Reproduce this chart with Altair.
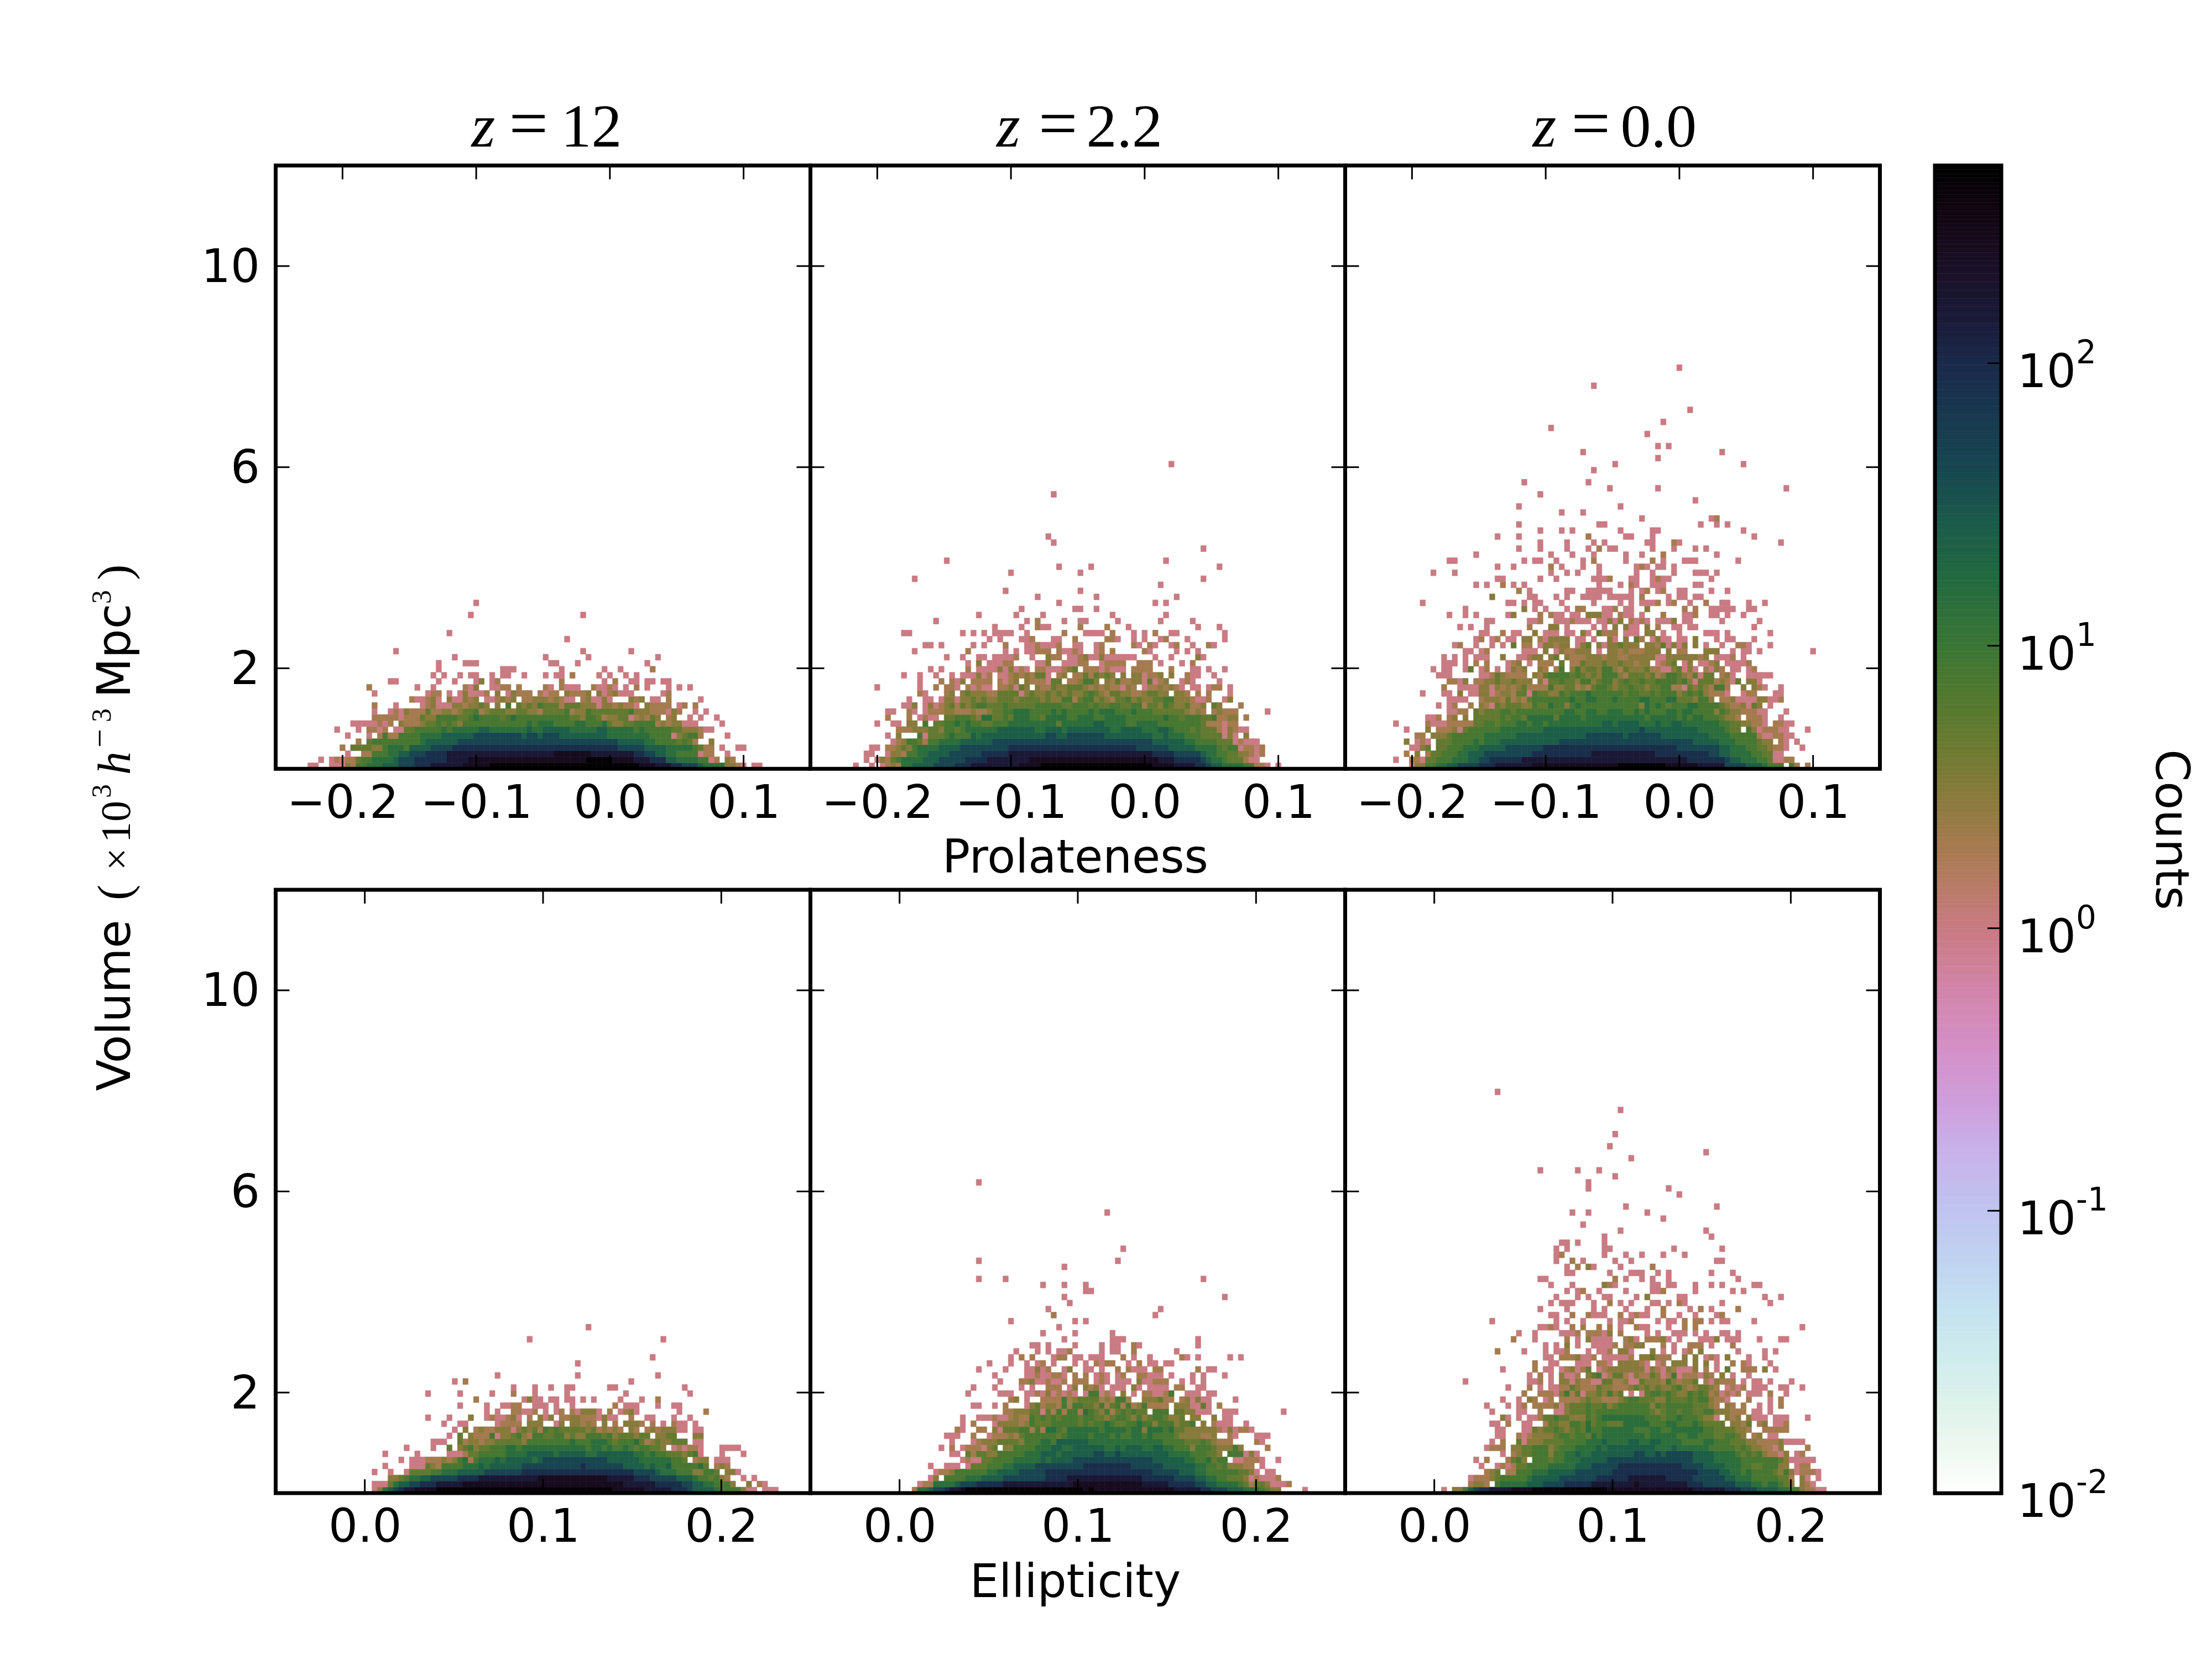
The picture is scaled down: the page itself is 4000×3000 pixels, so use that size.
import altair as alt
import numpy as np
import pandas as pd

# panel rows run bottom-up, each token is "first_column:levels"
TOP_Z12 = [
    "6:11 10:1113255666 20:777888999a 30:aaaaabbbbb 40:cccccccccc 50:cccccccccc 60:ccccccccbb 70:baaa998887 80:666633 86:21 89:11",
    "8:1 10:12 12:12245 17:56666 22:7888 26:999999aaaa 36:bbbbbbbbbb 46:bbbbbbbbbb 56:bbcccccbbb 66:baaa999 73:77666 78:655 81:12 84:32",
    "13:1 16:22 18:5556 22:67788 27:8999 31:9aaaaaaaaa 41:aaaaaaaaaa 51:abbbbbbbaa 61:aaaaaa 67:99 69:887 72:766 75:5555 79:122 84:1",
    "12:2 14:4444 18:33566 23:657777 29:88889999 37:9999999999 47:9999999999 57:9999999 64:88888 69:777 72:76666 77:654 80:22 83:1 86:11",
    "15:2 17:4555 21:555555 27:677777 33:7888888 40:8888888888 50:8888888888 60:8888 64:77777 69:66 71:555 74:545 77:42 81:3",
    "13:1 17:1 19:2522 23:55556 28:66677777 36:7888888888 46:7887888777 56:7777776 63:6666666 70:5555 74:1 75:345 78:52 84:1",
    "11:1 15:1 17:2212 22:11 24:4455 28:5556566 35:6667766 42:6666676677 52:7776666677 62:6666656 69:5555 73:544 76:333 79:2 80:11",
    "14:11111 19:212 23:322 26:2 27:34454 32:54 34:3 35:55555 40:55555 45:55656 50:66555 55:56655 60:56 62:4 63:33 65:4 66:45 68:5 69:55 71:2 72:3 73:2 74:333 76:111 83:1",
    "18:2 19:222 22:2 23:1 24:222 27:43 29:3 30:555 33:54 35:4 36:5 37:655 40:55 42:456 45:555 48:55555 53:55 55:44 57:3 58:55 60:4 61:2 62:33 64:44 66:1 67:232 70:4 71:3 73:2 74:3 77:1 79:1 82:1",
    "18:1 21:1 22:21 24:3222 28:44 29:22 31:33 33:2 34:3 35:44 37:5 38:2 39:34 41:4 42:4 43:33 45:4433 49:2 50:4444 54:5 55:2 56:33 58:5 59:44 61:4444 65:4 66:5 67:333 70:22 72:21 74:3 75:2 78:1 80:1",
    "18:2 22:1 27:12 29:3 30:111 33:333 35:2 36:3343 41:3 43:5 45:4 46:3 47:4 48:3 49:5 50:4 51:44 53:2 54:4 55:44 57:33 59:3 60:1 61:3 62:3 63:2 64:3 65:22 67:1 69:3 70:2 71:2 72:22 75:1 76:2 78:2",
    "25:2 26:11 28:23 30:1 32:3 33:11 35:32 37:3 39:11 41:2 42:32 44:3 46:22 48:333 51:2 52:32 54:11 57:23 59:11 61:3 62:1 66:323 70:11 73:2 79:1",
    "18:1 28:1 29:22 32:1 34:1 35:3 36:1 37:11 39:2 41:3 43:1 44:3 45:222 49:2 50:1 51:22 54:3 55:2 56:22 58:3 60:3 61:1 62:2 63:3 64:111 72:1 73:2",
    "17:2 26:1 29:1 35:2 36:1 37:3 40:11 42:22 45:2 50:2 51:1 53:2 54:111 59:2 60:11 62:2 63:1 65:1 67:2 69:1 73:1 75:1 77:1",
    "21:11 30:1 33:1 37:1 38:3 40:1 41:2 53:2 61:1 63:2 66:11 69:11 72:11",
    "29:1 31:1 34:1 36:11 40:1 42:11 46:1 50:1 52:11 55:2 60:1 62:1 65:1 67:1",
    "30:1 42:111 53:1 61:1 64:1 70:2",
    "30:1 35:111 51:11 56:1 69:1",
    "33:1 50:1 58:1 71:1",
    "22:1 57:1 66:1",
    "",
    "54:1",
    "32:1",
    "",
    "",
    "36:1 57:1",
    "",
    "37:1",
]

TOP_Z22 = [
    "8:1 11:1 13:1 14:232 17:667 20:77788 25:8899 29:9aa 32:aaaaaa 38:abbbb 43:ccccccc 50:ccccccc 57:ccccccc 64:bbb 67:baaaa 72:998 75:77 77:6666 81:55 83:22 85:1 87:1",
    "10:1 12:1 13:3 14:245 17:6666 21:7778 25:8888 29:9999 33:aaaaaaaa 41:bbbbbbbbb 50:bbbbbbbbbbbbbbb 65:aaa 68:99999 73:8766 77:5444 81:2 82:11",
    "10:11 14:1 15:332 18:556 21:67777 26:8888 30:889 33:9999 37:aaaaaaaaaa 47:aaaaaaaaaa 57:aaaaaaa 64:9999 68:8888 72:87 74:66 76:55 78:4433 82:2 83:1 84:2",
    "11:11 14:223 17:43 19:56666 24:7777 28:8888 32:88888 37:9999999999 47:9999999999 57:9999 61:888888 67:7777 71:76666 76:5455 80:1 81:22 83:1 84:2",
    "15:1 16:23 18:554 21:2 22:5566 26:66777 31:7778888 38:8888888888 48:8888888888 58:888888 64:777777 70:66 72:5555 76:444 79:1 80:2 81:111",
    "14:1 16:3 20:5 21:1 22:444 25:5655 29:5 30:7677 34:7777 38:7777778 45:8778888888 55:7777 59:77777 64:66 66:7 67:666 70:555 73:4444 77:1 78:3 79:1 81:3",
    "16:222 19:3 20:33443 25:5545 29:66666 34:6777777 41:7667776777 51:7777766777 61:7666 65:776 68:555 71:45 73:4444 76:2 77:1 78:3 79:2 80:11",
    "12:1 15:11 18:33 21:5 23:44 25:55656 30:5544 34:55 36:5 37:6666666 44:66 46:46 48:666 51:6677 55:6666 59:5566 63:6655 67:5555 71:5 72:5 73:4 74:222 77:1 78:22",
    "14:2 18:2 20:1 21:2 22:11 25:44 27:55543 32:66 34:445 37:46 39:6655 43:4 44:66 46:66 48:5566 52:6556 56:6665 60:5555 64:556 67:5545 71:5 72:5445 76:2233 81:2",
    "14:11 18:2 19:1 21:1 22:2 23:22 25:3 26:32 28:22 30:3 31:2 32:2 33:3 34:4 35:45 37:5 38:6 39:66 41:55 43:5 44:5 45:6 46:56 48:55 50:5 51:5 52:6 53:5 54:6 55:66 57:55 59:5 60:6 61:55 63:5 64:4 65:4 66:4 67:44 69:4 70:3 71:2 72:3 73:2 75:2 76:3 77:22 79:2 85:1",
    "17:11 19:3 21:1 22:3 23:1 24:2 25:3424 29:3455 33:4445 37:44444 42:55555 47:44555 52:45445 57:54455 62:23 63:44 65:3543 69:34 71:22 73:3 75:4 76:3 80:2",
    "18:1 21:11 24:1 25:33 27:1 28:3343 32:43 34:344 37:4 38:3 39:44 41:44 43:34 45:33 47:55 49:2 50:45 52:53 54:4 55:3 56:2 57:445 60:34 62:33 64:4455 68:33 70:32 72:11 74:2 77:1 78:3",
    "20:2 21:1 25:2 26:3 28:3 29:43 31:3 32:3 33:22 35:44 37:44 39:1 40:3 41:4 42:33 44:4 45:3 46:4 47:3 48:4 49:3 50:3 51:4 52:5 53:4 54:3 55:2 56:4 57:4 58:3 59:3 60:2 61:2 62:3 63:44 65:3 66:3 68:3 69:3 70:2 72:2 74:2 78:1",
    "12:1 20:1 23:2 25:22 27:1 29:21 31:2 32:11 35:22 37:3 38:1 39:43 42:32 44:2 45:43 47:34 49:44 51:3 52:2 53:3 54:2 55:3 56:22 58:1 59:3 60:2 62:1 63:2 64:23 66:23 68:2 69:1 71:1 72:1 74:1 75:22 78:1",
    "20:1 24:2 26:2 27:1 28:3 30:222 33:2 35:2 36:1 37:23 40:3 41:2 42:22 44:1 45:4 46:4 48:22 50:3 51:5 52:5 53:3 55:3 56:2 57:4 58:22 60:33 62:1 63:4 64:1 65:23 69:1 70:2 71:1 76:1",
    "17:1 20:1 23:1 26:1 28:111 31:3 32:1 33:2 35:11 37:2 38:323 41:2 42:44 44:1 46:2 47:3 49:22 51:4 52:24 54:34 56:3 58:3 60:33 62:1 63:22 65:3 67:3 70:2 71:11 75:1",
    "22:1 24:1 29:2 31:1111 35:3 36:1 37:3 38:1 39:2 40:1 42:22 44:111 47:2 48:34 51:222 54:1 55:2 56:111 60:2222 67:2 71:11 74:1 77:1",
    "29:1 31:3 33:1 34:11 36:22 42:11 44:3 47:111 50:22 54:1 55:2 56:222 61:222 65:1 69:1 71:2",
    "25:1 28:1 31:11 34:1111 38:2 41:1 44:3 45:22 48:11 50:2 51:3 52:11 54:3 55:1 56:11111 64:1 67:1 72:3 73:1",
    "19:1 29:2 36:1 38:1 40:11 42:222 46:2 47:11 49:21 53:1 54:2 56:2 62:21 68:1 70:1 72:1",
    "21:11 24:1 30:1 32:1 36:2 40:11 42:2 43:111 46:2 49:11 53:1 54:2 60:21 63:21 67:12 71:1 74:21",
    "33:1 35:1 39:11 41:2 45:11 49:2 55:22 57:1 60:1 62:1 65:12 70:1 77:1",
    "17:11 28:1 30:1 32:1 34:1111 40:1 47:2 51:1111 56:2 60:1 62:1 64:2 67:11 77:1",
    "34:1 39:1 42:211 50:2 55:2 59:1 72:1 76:1",
    "23:1 40:1 42:2 47:1 50:11 57:1 65:1 71:1",
    "31:1 38:1 43:1 56:1 66:1",
    "39:1 49:11 53:1",
    "46:1 64:1 66:1",
    "42:1 53:1 68:1",
    "36:1 50:1",
    "65:1",
    "19:1 73:1",
    "37:1 50:1",
    "46:1 52:1 76:1",
    "25:1 66:1",
    "",
    "73:1",
    "45:1",
    "44:1",
    "", "", "", "", "", "",
    "45:1",
    "", "", "", "",
    "67:1",
]

TOP_Z00 = [
    "12:1 13:33 15:556 18:677 21:888 24:899 27:9aa 30:aaaaa 35:bbbbb 40:bbbbb 45:bbbbb 50:bcccc 55:ccccc 60:bbbbb 65:baaaa 70:a8888 75:7776 79:5 80:5 81:5 83:5 84:2 86:2",
    "9:1 12:2 13:21 15:445 18:556 21:667 24:7889 28:999 31:99aaa 36:aaaaa 41:aaaaa 46:aaaaa 51:aaaaa 56:aaaaa 61:aaa99 66:99999 71:8776 75:66 77:55 79:4 80:1 81:1 82:2 83:2",
    "11:2 13:3 15:2 16:445 19:556 22:677 25:7888 29:888 32:88899 37:99999 42:9999a 47:aaaaa 52:aaaaa 57:a9999 62:99999 67:98877 72:6666 76:554 79:4 80:1 81:1",
    "12:11 14:34 17:445 20:556 23:6677 27:7778 31:8888 35:88999 40:99999 45:99999 50:99999 55:99999 60:99888 65:88888 70:77666 75:5544 79:32 81:2 82:1 85:1",
    "11:3 13:1 14:2 15:1 17:44 19:45 21:5556 25:5 26:66 28:6777 32:77 34:7777 38:77888 43:88888 48:88888 53:88888 58:88888 63:88777 68:77666 73:55554 78:33 81:2 82:1 84:1",
    "13:22 16:33 18:345 21:55555 26:66666 31:67777 36:77777 41:77778 46:88888 51:87888 56:88877 61:77777 66:77666 71:65555 76:5 77:2 78:11 80:22 82:1 83:1",
    "11:1 15:3 17:222 20:3 21:1 22:4555 26:55566 31:66666 36:67777 41:77777 46:77777 51:77778 56:77777 61:77777 66:66666 71:54 73:4 75:5 76:3 77:1 78:222 81:1 82:1 86:1",
    "9:1 15:2 16:111 19:222 22:22 24:44 26:55 28:4555 32:66 34:5665 38:6666 42:66666 46:66776 51:77776 56:66766 61:77666 66:66665 71:54433 76:22 78:1 80:22 82:11",
    "15:11 17:2 19:23 22:3 24:44444 29:54554 34:66666 39:46666 44:56666 49:66666 54:66566 59:66656 64:56655 69:54332 75:2 76:22 78:1 81:1",
    "19:11 21:22 24:4344 28:455 31:4555 35:5555 39:5566 43:55665 48:56665 53:56565 58:55665 63:66555 68:53 70:5433 74:22 76:2 77:11 82:1",
    "17:1 19:1 20:2 23:2 25:32 27:1 28:43 30:4443 34:3 35:544 38:655 41:3 42:565 45:55555 50:55 52:55 54:53 56:6565 60:455 63:566 66:5555 70:432 73:23 75:1 76:43 79:1",
    "19:1111 25:2 26:33 28:3 29:2 30:4 31:23 33:2 34:4 35:555 38:55 40:55 42:6 43:5 44:5 45:66 47:5 48:5 49:5 50:6 51:55 53:55 55:66 57:55 59:5 60:6 61:6 62:4 63:44 65:3 66:5 67:5 68:3 70:2 71:2 72:3 73:1111 77:33 79:11 81:2",
    "14:1 18:11 21:3 23:11 25:33 27:1 28:2332 32:441 35:5443 39:3 40:5455 44:5655 48:55554 53:55 55:4 56:4545 60:55 62:34 64:54 66:532 69:22 71:1 74:1 75:22 80:11",
    "18:2 21:111 24:1 25:3 26:3 27:1 28:3 29:2 30:3 31:2 32:3 33:4 34:2 35:22 37:2 38:5 39:3 40:3 41:4 42:4 43:2 44:3 45:2 46:4 47:55 49:4 50:3 51:4 52:4 53:5 54:4 55:4 56:3 57:4 58:4 59:5 60:5 61:2 62:2 63:1 64:4 65:3 66:4 67:3 68:2 69:5 70:5 71:2 74:3 76:3 77:2 78:1 81:1",
    "19:22 21:1 22:3 24:22 26:3 27:3 28:4 29:3 30:3 31:4 32:33 34:3 36:3 37:1 38:4 39:4 40:5 41:4 42:4 43:3 44:55 46:3 47:4 48:55 50:3 51:4 52:5 53:4 54:4 55:5 56:44 58:5 59:55 61:5 62:4 63:5 64:3 65:1 66:44 68:4 69:2 70:3 71:2 72:1 73:4 75:33 77:1",
    "17:111 25:11 27:2 28:4 29:3 30:2222 35:3 36:2 37:4 38:55 40:55 42:4 43:5 44:4 45:3 46:4 47:3 48:5 49:55 51:3 52:2 53:4 54:4 55:4 56:3 57:4 58:2 59:3 60:55 62:4 63:3 64:2 65:4 66:1 67:4 68:4 70:2 71:3 72:1 75:1 76:1 77:1 78:11",
    "16:1 18:11 22:1 23:4 25:1 26:2 28:1 30:1 31:3 32:2 33:3 36:3 37:2 39:2 40:5 42:3 43:5 44:3 45:44 47:3 48:55 50:3 51:2 52:4 53:33 55:3 56:4 57:2 58:2 59:1 60:1 61:3 62:4 63:1 64:3 65:1 67:2 68:1 69:3 70:2 72:1 73:1 75:1 76:2",
    "18:111 22:1 24:2 26:2 30:1 31:23 34:1 36:22 38:2 40:4 42:22 44:4 45:33 47:3 48:4 49:33 51:4 52:33 54:2 55:3 56:3 58:1 59:2 60:3 61:4 63:1 64:3 66:1 67:1 68:2 69:3 71:1 72:11 74:1 75:2",
    "18:1 20:1 22:1 24:111 29:3 32:11 34:2 35:33 38:3 39:4 41:3 42:22 44:2 45:3 46:3 47:3 48:2 49:3 50:3 51:2 52:2 53:3 54:3 55:3 56:3 57:3 58:1 59:1 60:3 61:3 62:3 63:3 64:3 65:3 66:2 67:3 69:1 70:111 72:2 74:1",
    "22:11 25:12 33:111 37:3 39:1 40:3 41:2 42:2 43:33 45:3 47:1 49:33 51:2 52:3 53:222 56:3 57:3 58:3 60:3 62:22 67:333 72:1 74:11 77:1 87:1",
    "20:1 21:2 24:1 27:1 29:1 31:4 33:22 36:1 37:33 39:2 40:3 41:3 43:1 44:3 45:4 47:3 48:1 49:3 50:3 51:4 52:3 53:3 54:3 56:3 57:3 58:2 59:4 60:1 61:3 62:1 63:3 65:3 67:1 70:1 73:22 75:1 79:1",
    "24:12 27:1 28:2 30:11 33:33 36:2 37:1 38:3333 43:11 46:1 49:3 50:1 52:3 54:4 55:2 57:1 58:3 59:11 62:1 63:1 65:3 69:1 71:11 76:1",
    "25:11 29:2 31:11 35:3 37:1 38:11 41:11 44:3 45:1 47:4 48:222 52:1 53:11 56:33 59:1 62:1 67:111 71:1 79:1",
    "21:1 23:1 26:1 34:2 38:33 41:1 46:1 48:1 50:3 52:3 53:11 56:3 58:2 61:1 62:1 64:11 76:1",
    "26:11 34:11 36:2 39:111 42:2 43:111 47:11 49:3 50:1 51:3 53:2 54:1 55:2 56:1 58:111 61:3 63:11 70:1 77:1",
    "19:1 22:1 24:1 30:1 31:3 36:2 38:2 39:11 42:11 45:333 48:11 51:2 52:11 55:1 59:2 63:11 65:2 68:11 71:1 74:1",
    "22:1 33:3 35:1 37:1 41:1 43:22 48:11 50:2 52:11 56:3 63:2 65:2 68:1111 72:1 75:11",
    "14:1 30:11 33:1 35:11 40:1 46:1 51:1 53:1 55:111 58:2 60:1 61:2 64:1 67:2 70:11 75:1 78:1",
    "27:3 34:11 39:1 41:1 44:1111 49:111 52:11 55:2 60:1 62:11 65:11",
    "32:2 34:1 41:11 45:1111 49:1 53:1 55:1 56:2 58:1 59:2 62:11 68:1 71:1",
    "24:1 26:1 29:2 31:1 33:1 47:1 51:1 53:2 54:1 57:1 58:11 65:11",
    "28:11 36:1 39:1 46:111 49:2 53:11 57:1 58:2 59:11 68:1",
    "16:1 20:1 38:1 41:1 43:1 47:1 54:1 57:1 61:1 65:111 69:1",
    "28:1 31:1 38:2 40:1 44:1 47:1 54:1 55:2 56:1 58:11 61:1",
    "19:11 33:1 35:11 39:1 44:1 46:2 52:1 57:2 59:1 63:111 73:1",
    "24:1 38:1 42:1 46:1 52:1 55:1 59:2 69:1",
    "32:1 36:1 41:1 45:1 47:2 49:11 57:1 61:1 65:1 67:1",
    "36:1 41:1 46:1 48:1 56:11 61:2 62:1 81:1",
    "28:1 32:1 45:2 52:11 57:1 76:1",
    "36:1 40:1 42:1 51:1 57:11 74:1",
    "32:1 47:11 66:1 69:1 71:1",
    "55:1 68:1 69:2",
    "40:1 44:1",
    "32:1 51:1",
    "65:1",
    "36:1",
    "49:1 58:1 82:1",
    "33:1 45:1",
    "",
    "46:1",
    "50:1 74:1",
    "58:1",
    "44:1 70:1",
    "58:1 60:1",
    "",
    "56:1",
    "38:1",
    "59:1",
    "",
    "64:1",
    "", "", "",
    "46:1",
    "", "",
    "62:1",
]

BOTTOM_Z12 = [
    "18:1 19:3 20:6 21:7 22:89 24:aab 27:bbb 30:ccccc 35:ccccc 40:ccccc 45:ccccc 50:ccccc 55:ccccc 60:cccbb 65:bbbba 70:aaaa 74:999 77:8 78:7777 82:6 83:5 84:555 87:3 88:11 91:111",
    "18:111 21:4 22:6 23:778 26:899 29:9aaa 33:aabb 37:bbbbb 42:bbbbb 47:bbbbb 52:bbbbb 57:bbbbb 62:bbba 66:aaaa 70:a999 74:9988 78:7766 82:555 85:3 88:3 90:2 91:1",
    "21:33 23:4 24:56 26:6778 30:8888 34:9999 38:aaaaa 43:aaaaa 48:abbbb 53:bbbbb 58:bbbba 63:aaaa 67:999 70:88 72:8887 76:77 78:65 80:54 82:5 83:3 84:2 87:1 89:1",
    "18:1 21:1 24:1 25:4 26:444 29:55 31:66 33:6 34:7 35:77 37:77 39:88 41:88 43:88 45:899 48:9999 52:9999 56:9999 60:9999 64:9998 68:888 71:76 73:66 75:55 77:5 78:33 80:5 81:5 82:4 84:33 86:1",
    "20:1 25:111 28:4 29:3 30:2 31:5 32:55 34:5 35:6 36:66 38:7 39:67 41:77 43:77 45:7 46:8 47:88 49:88 51:88 53:88 55:88 57:9 58:88 60:88 62:88 64:87 66:7 67:77 69:67 71:6 72:67 74:555 77:5 78:5 79:6 80:4 82:2 83:3 84:2",
    "23:1 25:111 28:222 31:3 32:2 33:3 34:5 35:6 36:2 37:56 39:66 41:7 42:67 44:77 46:77 48:6 49:78 51:88 53:8 54:88 56:88 58:8 59:88 61:87 63:77 65:77 67:7 68:66 70:66 72:66 74:5 75:5 76:4 78:2 79:33 82:111",
    "20:1 26:1 32:111 35:2 36:44 38:55 40:55 42:56 44:66 46:6 47:77 49:77 51:7 52:6 53:7 54:77 56:776 59:6 60:77 62:77 64:777 67:665 70:6 71:554 74:4 75:4 76:3 77:4 78:5 79:1 83:1 87:1",
    "24:1 29:1 32:4 34:34 36:5 37:344 40:555 43:66 45:5 46:666 49:666 52:666 55:666 58:5 59:66 61:5 62:6 63:55 65:6 66:5 67:4 68:55 70:44 72:3 74:1 75:2 76:1 77:22 79:1 83:1111",
    "29:11 31:1 34:4 35:233 38:23 40:3 41:4 42:444 45:4 46:3 47:5 48:55 50:5 51:55 53:5 54:5 55:6 56:55 58:5 59:6 60:6 61:6 62:5 63:4 64:5 65:5 66:5 67:6 68:4 69:2 70:3 71:4 72:3 73:3 74:4 75:4 76:4 78:1 79:1",
    "32:1 34:4 36:3 37:222 40:5 41:1 42:334 45:5 46:3 47:2 48:55 50:4 51:4 52:5 53:5 54:3 55:4 56:3 57:3 58:5 59:5 60:5 61:4 62:5 63:3 64:4 65:4 66:4 67:3 68:4 69:4 71:3 72:3 73:4 74:4 78:33",
    "33:1 35:3 37:23 39:22 41:333 44:1 45:34 47:3 48:4 49:2 50:5 51:4 52:5 53:4 54:4 55:4 56:4 57:4 58:3 59:4 60:2 61:3 62:2 63:3 64:2 66:3 67:2 69:2 70:3 71:2 72:3 73:33 75:11 78:11",
    "31:1 34:11 41:1 42:2222 47:333 52:1 53:3 55:33 57:2 58:3 59:2 61:3 63:2 65:3 66:33 68:2 70:2 72:1 74:2 75:11 78:1",
    "28:1 32:1 36:3 39:1 40:2 41:11 43:2 44:3 45:1 47:2 49:3 50:1 51:3 53:22 55:33 57:222 60:1 61:3 62:11 66:2 69:11 74:1 77:1",
    "39:1 41:1 44:22 46:11 48:2 50:1 52:1 53:2 55:2 56:1 57:333 60:1 62:2 64:1 65:2 66:3 67:1 75:1 80:2",
    "34:1 39:1 42:11 44:22 48:111 52:1 55:1 63:2 65:111 71:1 74:11",
    "37:2 46:1 47:3 48:11 51:11 54:11 57:1 59:1 64:1 68:1 71:2",
    "28:1 34:1 40:1 44:2 48:1 54:1 65:1 77:1",
    "44:1 48:1 51:1 54:11 62:11 76:1",
    "33:1 35:2 66:1",
    "41:1 56:1 71:1",
    "",
    "56:1",
    "70:1",
    "", "",
    "47:1 72:1",
    "",
    "58:1",
]

BOTTOM_Z22 = [
    "19:2 20:66 22:788 25:9aa 28:bcc 31:ccccc 36:ccccc 41:ccccc 46:ccccc 51:bcbbb 56:bbbbb 61:bbbbb 66:bbaaa 71:aa99 75:888 78:777 81:6 82:6 83:6 84:5 85:4 86:3 87:3 92:1",
    "20:1 21:22 23:66 25:66 27:7 28:88 30:89 32:99 34:99 36:aa 38:aa 40:aa 42:aa 44:aa 46:aa 48:ab 50:bb 52:bb 54:bb 56:bb 58:bb 60:bb 62:aa 64:aa 66:a9 68:99 70:99 72:88 74:77 76:66 78:66 80:5 81:4 82:2 83:44 85:3 86:111 89:2",
    "22:1 23:3 25:5 26:55 28:56 30:66 32:77 34:77 36:88 38:88 40:88 42:88 44:99 46:99 48:aa 50:aa 52:aa 54:aa 56:aa 58:aa 60:aa 62:99 64:99 66:99 68:88 70:88 72:77 74:66 76:55 78:44 80:4 81:3 82:1 83:2 84:111 87:2",
    "23:1 24:22 26:3555 30:55 32:56 34:67 36:77 38:78 40:88 42:88 44:99 46:99 48:99 50:99 52:99 54:99 56:99 58:99 60:99 62:99 64:88 66:88 68:87 70:77 72:66 74:55 76:55 78:55 80:4 81:4 82:3 83:1 85:1 86:1",
    "22:1 25:111 29:1 30:44 32:45 34:55 36:66 38:77 40:77 42:88 44:88 46:88 48:88 50:89 52:99 54:99 56:99 58:99 60:88 62:88 64:88 66:77 68:77 70:77 72:6 73:6 74:55 76:4 77:5 78:3 79:33 81:2 82:2 84:1",
    "28:1 29:2 30:1 31:1 32:44 34:55 36:5 37:5 38:6 39:66 41:66 43:7 44:67 46:7 47:77 49:88 51:88 53:88 55:8 56:8 57:88 59:88 61:88 63:8 64:7 65:7 66:77 68:77 70:6 71:6 72:5 73:5 74:6 75:4 76:5 77:5 79:11 81:222 84:1 87:1",
    "26:11 29:4 30:2 31:4 32:4 33:3 34:3 35:5 36:5 37:5 38:5 39:5 40:6 41:66 43:77 45:76 47:77 49:77 51:77 53:88 55:77 57:87 59:77 61:77 63:77 65:77 67:66 69:66 71:5 72:5 73:5 74:4 75:4 76:3 78:5 79:55 81:1 82:3 83:1",
    "24:1 26:2 28:1 29:222 32:1 33:3 34:4 36:33 38:5 39:55 41:5 42:66 44:67 46:7 47:66 49:77 51:77 53:77 55:66 57:7 58:67 60:77 62:66 64:77 66:66 68:55 70:5 71:3 72:5 73:5 74:5 75:4 76:3 77:33 79:5 80:3 85:2",
    "26:1 30:1 31:2 32:333 35:44 37:4 38:4 39:3 40:5 41:55 43:66 45:5 46:77 48:77 50:77 52:66 54:66 56:66 58:66 60:66 62:66 64:66 66:55 68:55 70:4 71:4 72:4 73:5 74:4 75:3 76:222 83:2 84:1",
    "25:111 30:2 33:1 34:222 37:3 38:2 39:4 40:5 41:5 42:5 43:5 44:5 45:5 46:4 47:5 48:6 49:6 50:6 51:6 52:5 53:6 54:6 55:6 56:5 57:6 58:5 59:5 60:6 61:6 62:5 63:6 64:5 65:5 66:5 67:5 68:4 69:3 70:3 71:3 72:3 73:22 75:3 78:2 79:1 83:111",
    "27:2 28:1 31:22 34:3 35:1 36:44 38:4 39:5 40:5 41:2 42:5 43:2 44:6 45:6 46:5 47:4 48:6 49:6 50:6 51:6 52:6 53:6 54:5 55:6 56:6 57:6 58:6 59:5 60:6 61:6 62:3 63:6 64:6 65:6 66:5 67:6 68:4 69:4 70:3 71:3 72:3 73:3 74:33 76:2 77:1 78:3 79:1 80:22 82:1",
    "28:1 30:2 34:1 35:33 37:33 39:2 40:3 41:5 42:4 43:4 44:4 45:5 46:5 47:5 48:5 49:5 50:4 51:5 52:4 53:5 54:5 55:6 56:5 57:4 58:4 59:5 60:5 61:6 62:5 63:5 64:3 65:5 66:5 67:5 68:3 69:4 70:4 71:5 73:3 75:2 76:1 77:1 78:1 81:1",
    "28:1 31:111 34:2 35:11 37:2 38:3 39:2 40:2 41:5 42:4 43:5 44:4 45:5 46:4 47:5 48:5 49:5 50:4 51:5 52:5 53:4 54:4 55:3 56:4 57:5 58:5 59:4 60:3 61:5 62:3 63:4 64:5 65:5 66:4 67:3 68:3 69:4 71:3 72:3 75:3 77:11",
    "36:22 38:33 40:34 42:4 43:1 44:4 45:2 46:5 47:2 48:5 49:5 50:2 51:6 52:5 53:4 54:3 55:5 56:2 57:4 58:5 59:4 60:5 61:4 62:4 64:5 65:5 66:5 68:4 69:4 70:3 71:3 72:1 73:11 77:111 88:1",
    "30:11 34:1 36:2 40:1 41:34 43:2 44:3 45:3 46:2 47:5 48:2 49:5 50:5 51:4 52:4 53:3 54:5 55:2 56:4 57:5 58:2 59:5 60:2 61:3 62:5 63:222 66:2 68:33 70:3 71:1 72:1 73:4 74:1 76:2",
    "37:23 40:1 43:222 46:2 47:5 48:2 49:3 50:44 52:4 53:4 54:2 55:3 56:2 57:5 58:5 59:2 62:33 64:34 66:2 67:2 69:2 70:3 71:1 72:3 73:11 79:1",
    "29:1 35:111 40:11 42:2 43:1 44:3 45:1 46:2 47:1 48:2 49:1 51:1 52:55 54:1 55:2 56:1 58:3 60:1 62:22 64:11 66:2 67:5 70:111 74:11",
    "30:1 34:1 39:1 41:1 44:2 45:22 48:1 49:3 51:3 52:2 53:3 54:1 56:111 60:3 61:1 63:1111 68:22 72:11",
    "35:1 39:22 41:3 42:11 44:2 45:11 47:2 49:222 53:1 54:2 55:1 57:1 58:11 61:3 62:11 64:222 69:1 71:1 73:1",
    "34:1 40:11 42:2 43:11 45:22 47:1 49:2 51:2 53:1 54:2 55:1 57:1 58:2 61:22 63:111 67:1 71:1 73:1 77:1",
    "31:1 36:1 40:11 42:3 43:1 44:2 47:1 48:3 51:11 54:1 57:2 59:2 60:111 64:22 72:2 74:11",
    "33:1 37:1 40:1 42:1 43:2 45:1 49:1 51:1 53:2 54:1 55:22 59:1 61:2 63:11 66:11",
    "37:1 39:2 41:2 45:1 46:22 49:11 52:111 58:2 60:1 63:1 69:2 70:1 72:1 78:1 80:1",
    "38:1 42:1 44:1 46:11 48:2 54:1 56:11 60:2 68:1",
    "41:11 44:1 49:1 54:1 56:11 60:2 61:1 72:1",
    "47:1 56:1 57:11 72:1",
    "43:1 49:1 56:1",
    "46:1",
    "37:1 49:1 51:1",
    "45:2 64:1",
    "44:1 65:1",
    "48:1",
    "47:1 77:1",
    "51:11",
    "43:1 47:1 51:1",
    "36:1 31:1 73:1",
    "",
    "47:1",
    "31:1 57:1",
    "",
    "58:1",
    "",
    "", "", "", "",
    "55:1",
    "", "", "", "",
    "31:1",
]

BOTTOM_Z00 = [
    "18:1 20:33 22:57 24:8 25:9 26:9a 28:aa 30:ab 32:bb 34:bc 36:cc 38:cc 40:cc 42:cc 44:cc 46:cc 48:cb 50:bb 52:bb 54:bb 56:bb 58:bb 60:bb 62:bb 64:ba 66:aa 68:aa 70:a9 72:99 74:88 76:87 78:77 80:76 82:6 83:5 84:5 85:3 86:2 87:2 88:11",
    "23:2 24:3 25:3 26:2 28:5 29:66 31:66 33:6 34:77 36:7 37:88 39:88 41:99 43:99 45:9a 47:aa 49:aa 51:aa 53:ab 55:aa 57:aa 59:aa 61:aa 63:a9 65:99 67:88 69:88 71:88 73:7 74:7 75:7 76:6 77:6 78:5 79:66 81:5 82:4 83:3 85:3 86:2 87:1",
    "23:1 24:222 27:3 28:4 29:5 30:55 32:55 34:6 35:7 36:7 37:7 38:7 39:78 41:88 43:88 45:88 47:99 49:99 51:99 53:aa 55:aa 57:aa 59:a9 61:99 63:99 65:88 67:88 69:88 71:77 73:6 74:66 76:5 77:5 78:55 80:5 81:4 82:4 83:2 85:3 86:1 88:1",
    "26:2 27:3 28:4 30:2 31:2 32:5 33:5 34:5 35:6 36:6 37:6 38:7 39:77 41:77 43:8 44:88 46:88 48:88 50:99 52:99 54:99 56:99 58:99 60:99 62:99 64:99 66:88 68:88 70:77 72:66 74:5 75:6 76:5 77:5 78:5 79:5 80:4 81:3 82:5 83:3 84:1 85:2 86:22 88:1",
    "25:1 28:1 29:2 30:1 31:2 32:4 33:4 34:5 35:5 36:5 37:5 38:6 39:66 41:66 43:7 44:77 46:8 47:88 49:88 51:99 53:99 55:99 57:99 59:99 61:99 63:88 65:88 67:77 69:77 71:66 73:6 74:5 75:5 76:4 77:4 78:5 79:5 80:5 81:3 82:3 84:1 85:22",
    "24:1 26:2 30:2 31:4 32:5 33:3 35:5 36:5 37:5 38:4 39:55 41:6 42:6 43:6 44:7 45:77 47:77 49:88 51:88 53:88 55:88 57:88 59:88 61:88 63:88 65:77 67:77 69:66 71:66 73:6 74:5 75:5 76:5 77:5 78:55 80:54 82:3 83:11111",
    "29:1 31:2 32:3 33:44 35:5 36:5 37:5 38:3 39:5 40:5 41:6 42:6 43:7 44:66 46:77 48:77 50:77 52:77 54:88 56:7 57:7 58:8 59:7 60:8 61:88 63:88 65:77 67:77 69:66 71:6 72:6 73:5 74:4 75:5 76:4 77:5 78:3 79:2 80:2 81:1 82:3 84:1 85:2",
    "26:1 27:222 31:33 33:4 34:4 35:5 36:5 37:5 38:3 39:4 40:5 41:5 42:5 43:6 44:6 45:6 46:6 47:7 48:6 49:7 50:77 52:77 54:77 56:7 57:7 58:6 59:6 60:6 61:7 62:66 64:66 66:66 68:55 70:55 72:5 73:4 74:5 75:4 76:3 77:3 78:2 79:2 80:1 81:3 86:2",
    "27:1 29:2 32:4 33:1 34:3 35:33 37:4 38:44 40:4 41:5 42:5 43:5 44:5 45:6 46:6 47:6 48:7 49:6 50:6 51:66 53:77 55:66 57:77 59:6 60:6 61:66 63:55 65:55 67:66 69:5 70:5 71:5 72:4 73:4 74:4 75:3 76:3 77:2 78:222 81:3 82:1 83:11 85:1",
    "28:11 32:2 33:1 34:2 35:3 36:33 38:3 39:4 40:55 42:4 43:55 45:4 46:6 47:5 48:6 49:6 50:6 51:66 53:66 55:6 56:5 57:6 58:6 59:6 60:6 61:6 62:5 63:5 64:6 65:6 66:5 67:5 68:5 69:4 70:4 71:5 72:5 73:4 74:3 76:2 77:3 79:1 80:1",
    "28:11 33:11 35:4 36:3 37:44 39:5 40:4 41:3 42:4 43:5 44:4 45:6 46:5 47:5 48:6 49:6 50:66 52:66 54:55 56:5 57:6 58:6 59:5 60:5 61:6 62:6 63:6 64:6 65:6 66:6 67:5 68:5 69:4 70:4 71:4 72:4 73:3 74:3 75:2 78:22 80:2 81:2 82:2",
    "27:11 30:2 33:11 37:2 38:4 39:4 40:3 41:3 42:5 43:5 44:4 45:6 46:4 47:5 48:5 49:4 50:44 52:6 53:6 54:66 56:6 57:5 58:5 59:5 60:6 61:6 62:5 63:5 64:5 65:6 66:5 67:4 68:4 69:4 70:4 72:3 73:3 74:2 75:4 77:2 78:3 80:111 82:2",
    "29:3 30:1 32:1 34:11 36:2 37:44 39:5 40:4 41:4 42:33 44:3 45:5 46:4 47:5 48:6 49:6 50:66 52:66 54:66 56:5 57:5 58:5 59:4 60:5 61:5 62:6 63:5 64:5 65:5 66:4 67:3 68:3 69:1 71:3 72:2 73:3 75:3 76:1 77:11 80:11 82:1 86:1",
    "27:1 32:11 36:2 39:11 41:3 42:4 43:44 45:5 46:4 47:5 48:5 49:5 50:55 52:55 54:5 55:5 56:5 57:4 58:3 59:4 60:5 61:5 62:4 63:5 64:5 65:4 66:4 67:5 68:5 69:3 70:3 71:3 72:2 73:2 74:2 76:1 77:1 79:1",
    "26:1 30:1 32:1 33:2 35:222 38:2 39:3 40:1 41:3 42:44 44:4 45:5 46:4 47:4 48:5 49:3 50:4 51:5 52:5 53:5 54:5 55:5 56:5 57:3 58:5 59:4 60:5 61:5 62:5 63:5 64:5 65:4 66:4 67:4 68:3 69:2 71:3 72:2 74:2 77:1 79:1 81:2",
    "29:1 32:1 34:3 35:2 37:1 38:2 40:22 42:22 44:3 45:4 46:3 47:3 48:2 49:2 50:2 51:3 52:4 53:5 54:5 55:4 56:4 57:4 58:3 59:3 60:5 61:4 62:4 63:4 64:5 65:4 66:5 67:5 68:3 69:2 70:2 71:1 75:2 79:1 81:2",
    "33:2 36:222 39:1 40:3 41:5 42:2 43:4 44:1 45:3 46:3 47:4 48:3 49:5 50:3 51:4 53:1 55:1 56:4 57:5 58:5 59:4 60:5 61:4 62:3 63:3 64:5 65:4 66:5 67:4 68:2 69:3 70:1 71:2 72:1 73:2 75:1 76:11 79:2 82:1",
    "30:1 34:2 36:1 38:11 40:2 41:2 42:4 43:3 44:22 46:2 47:4 48:3 49:3 50:22 52:2 53:3 54:4 55:3 56:4 57:3 58:4 59:3 60:3 61:4 62:5 63:3 64:2 65:3 66:4 67:4 68:3 69:2 71:1 72:2 73:1 74:2 76:111 81:11 85:1",
    "22:1 34:11 36:2 38:1 40:33 42:1 43:322 46:1 47:1 48:44 50:223 53:1 54:1 55:4 56:33 58:3 59:2 60:5 61:3 62:2 63:3 64:3 65:4 67:2 68:1 69:3 70:2 71:22 74:1 76:11 79:1 83:1",
    "34:1 36:2 38:1 40:3 41:11 43:2 45:3 46:45 48:1 49:2 50:44 52:2 53:1 54:3 55:22 57:4 58:3 59:1 60:2 61:5 62:1 63:22 65:2 66:1 67:3 68:2 70:3 72:1 75:1",
    "29:1 35:2 37:11 40:1 41:2 42:3 43:1 44:2 45:4 47:1 48:2 49:3 50:33 52:33 54:33 56:1 57:3 58:2 59:1 60:3 61:2 62:11 64:1 65:3 67:2 69:1 71:4 74:222 78:3 80:1",
    "35:2 38:11 43:111 47:22 49:1 51:33 53:33 55:2 56:1 58:1 59:2 61:333 65:3 67:3 69:1 72:2 74:2 75:1 79:1",
    "37:11 40:222 43:3 44:11 46:2 48:11111 53:2 55:3 56:3 57:4 58:222 63:3 65:3 67:1 68:2 69:1 71:3 75:1 78:1",
    "28:2 33:1 37:1 39:11 41:2 45:1 47:11 49:2 51:33 53:1 57:3 59:1 61:1 63:1 64:2 66:3 73:1 78:1 80:1",
    "37:1 39:1 41:3 43:1 46:1111 50:2 52:22 54:33 59:2 61:1 64:222 68:1 72:2",
    "31:2 35:1 41:2 43:1 45:3 46:1 47:111 52:2 53:3 54:1 56:222 59:3 60:1 62:1 66:111 69:3 71:111 77:1 81:11",
    "32:1 35:1 40:111 43:2 45:222 48:1 49:3 51:2 56:1 58:1 61:111 65:1 67:1 70:11 73:1",
    "36:11 38:2 39:1 42:2 44:2 47:2 49:2 51:1 54:2 55:11 60:1 63:2 65:2 85:1",
    "27:1 39:1 41:1 44:1 49:1 51:11 53:2 58:1 60:11 63:2 65:22 68:1 70:11 76:1",
    "38:11 42:2 45:2 46:111 51:2 53:1 54:2 55:11 59:2 62:1 65:1 69:1 70:2",
    "36:1 41:1 46:1 48:1 52:1 56:1 59:2 64:1 66:2 68:1 73:2",
    "38:1 40:111 46:1 49:2 51:1 53:1 57:11 60:1 62:2 63:1 70:1 79:1",
    "39:1 43:1 45:1 48:11 54:1 56:3 62:11 78:1 81:1",
    "41:1 43:1 44:2 47:1 52:1 57:11 59:2 65:1 72:1 74:1",
    "38:1 42:1 48:3 49:2 50:1 57:11 60:11 65:1 68:1 70:1 76:11",
    "36:11 50:2 52:1 55:1 57:1 60:1 73:1",
    "41:11 49:1 53:111 58:1 60:1 68:1 72:1",
    "41:1 43:2 45:3 46:1 51:1 57:2",
    "39:1 42:2 44:1 50:1 53:1 69:11",
    "39:1 40:2 48:1 52:1 55:1 59:1 63:1",
    "39:1 41:1 48:11 61:1 70:1",
    "40:11 43:1 48:1",
    "48:1 68:1",
    "51:1 67:1",
    "44:1",
    "59:1",
    "42:1 45:1 56:1",
    "52:1 69:1",
    "",
    "62:1",
    "45:1 60:1",
    "45:1",
    "50:1",
    "36:1 43:1 47:1",
    "",
    "53:1",
    "67:1",
    "49:1",
    "",
    "50:1",
    "", "", "",
    "51:1",
    "", "",
    "28:1",
]

# count for every level character
LEVEL_COUNTS = {"1": 1, "2": 2, "3": 3, "4": 5, "5": 8, "6": 14, "7": 25, "8": 45, "9": 90, "a": 160, "b": 260, "c": 450}

X_RANGE_TOP = [-0.25, 0.15]
X_RANGE_BOTTOM = [-0.05, 0.25]
Y_RANGE = [0, 12]
X_TICKS_TOP = [-0.2, -0.1, 0.0, 0.1]
X_TICKS_BOTTOM = [0.0, 0.1, 0.2]
Y_TICKS = [2, 6, 10]
CBAR_TICKS = [0.01, 0.1, 1, 10, 100]
CBAR_EXPONENTS = ["-2", "-1", "0", "1", "2"]
REDSHIFTS = ["12", "2.2", "0.0"]

CMAP_VALUES = [0.01, 0.014, 0.02, 0.03, 0.0436, 0.0645, 0.1, 0.162, 0.234, 0.37, 0.6, 1, 1.85, 2.9, 4.4, 6.8, 10, 17, 28, 43, 66, 100, 138, 213, 333, 501]
CMAP_COLORS = ["#ffffff", "#eff8f1", "#dff3ea", "#cfeced", "#c5e3f0", "#c0d4f0", "#c0c4f0", "#c8b2ea", "#cda0dd", "#d490c9", "#d285ab", "#c97a82",
               "#a97a52", "#8a7a3c", "#6b7a30", "#50782f", "#3a7534", "#236a40", "#1a5a4a", "#174650", "#18384f", "#1a2a4a", "#1a1c3a", "#1a1028", "#120612", "#000000"]

W = 967
H = 1091
CBAR_X = W + 99.5
CBAR_W = 120
CBAR_H = 2401
FONT = "DejaVu Sans"
TICK_SIZE = 83.3
TICK_LEN = 25
color_scale = alt.Scale(type="log", domain=CMAP_VALUES, range=CMAP_COLORS, interpolate="rgb", clamp=True)
one_row = pd.DataFrame({"a": [0]})


def cells_from_rows(rows, x_range):
    # later tokens win where two runs overlap
    cells = {}
    step = (x_range[1] - x_range[0]) / 100
    dy = (Y_RANGE[1] - Y_RANGE[0]) / 100
    for r, row in enumerate(rows):
        for token in row.split():
            start, levels = token.split(":")
            for i, ch in enumerate(levels):
                cells[(r, int(start) + i)] = LEVEL_COUNTS[ch]
    return pd.DataFrame(
        [
            {"x": x_range[0] + c * step, "x2": x_range[0] + (c + 1) * step, "y": r * dy, "y2": (r + 1) * dy, "n": n}
            for (r, c), n in cells.items()
        ]
    )


def piece(x, y, s, size, font=FONT, style="normal", angle=0):
    return (
        alt.Chart(one_row)
        .mark_text(text=s, fontSize=size, font=font, fontStyle=style, angle=angle, align="left", baseline="alphabetic", color="black")
        .encode(x=alt.value(x), y=alt.value(y))
    )


def z_title(offsets, label):
    return [
        piece(offsets[0], -34, "z", 110, "Liberation Serif", "italic"),
        piece(offsets[1], -34, "=", 125, "Liberation Serif"),
        piece(offsets[2], -34, label, 110, "Liberation Serif"),
    ]


def ylabel_pieces():
    # baseline runs up the left margin, positions relative to the first panel
    bx = 235.7 - 499.5
    top = 299.3
    serif = "Liberation Serif"
    return [
        piece(bx, 1973 - top, "Volume", TICK_SIZE, angle=270),
        piece(bx, 1628 - top, "(", 85, serif, angle=270),
        piece(bx, 1574 - top, "×", 72, serif, angle=270),
        piece(bx, 1524 - top, "10", 76, serif, angle=270),
        piece(bx - 35, 1443 - top, "3", 50, serif, angle=270),
        piece(bx, 1401 - top, "h", 84, serif, "italic", angle=270),
        piece(bx - 35, 1352 - top, "−", 60, serif, angle=270),
        piece(bx - 35, 1306 - top, "3", 50, serif, angle=270),
        piece(bx, 1262 - top, "Mpc", TICK_SIZE, angle=270),
        piece(bx - 35, 1092 - top, "3", 50, serif, angle=270),
        piece(bx, 1049 - top, ")", 85, serif, angle=270),
    ]


def panel(rows, x_range, x_ticks, show_y=False, x_title=None, extra=()):
    x_scale = alt.Scale(domain=x_range, nice=False, zero=False)
    y_scale = alt.Scale(domain=Y_RANGE, nice=False)
    x_axis = alt.Axis(values=x_ticks, format=".1f", ticks=False, domain=False, grid=False, labelFontSize=TICK_SIZE, labelFont=FONT, labelColor="black",
                      labelPadding=22, labelFlush=False, labelOverlap=False, labelBound=False, labelLimit=500, title=x_title or "", titleFontSize=TICK_SIZE,
                      titleFont=FONT, titleFontWeight="normal", titleColor="black", titlePadding=17, titleX=W / 2 - 5)
    y_axis = None
    if show_y:
        y_axis = alt.Axis(values=Y_TICKS, format="d", ticks=False, domain=False, grid=False, labelFontSize=TICK_SIZE, labelFont=FONT, labelColor="black",
                          labelPadding=29, labelFlush=False, labelOverlap=False, labelBound=False, labelOffset=3, title=None)
    cells = (
        alt.Chart(cells_from_rows(rows, x_range))
        .mark_rect(strokeWidth=0.6)
        .encode(
            x=alt.X("x:Q", scale=x_scale, axis=x_axis),
            x2="x2:Q",
            y=alt.Y("y:Q", scale=y_scale, axis=y_axis),
            y2="y2:Q",
            color=alt.Color("n:Q", scale=color_scale, legend=None),
            stroke=alt.Stroke("n:Q", scale=color_scale, legend=None),
        )
    )
    xdf = pd.DataFrame({"v": x_ticks})
    ydf = pd.DataFrame({"v": Y_TICKS})
    layers = [cells]
    for y0, y1 in [(0, TICK_LEN), (H - TICK_LEN, H)]:
        layers.append(alt.Chart(xdf).mark_rule(strokeWidth=3, color="black").encode(x=alt.X("v:Q", scale=x_scale, axis=x_axis), y=alt.value(y0), y2=alt.value(y1)))
    for x0, x1 in [(0, TICK_LEN), (W - TICK_LEN, W)]:
        layers.append(alt.Chart(ydf).mark_rule(strokeWidth=3, color="black").encode(y=alt.Y("v:Q", scale=y_scale, axis=y_axis), x=alt.value(x0), x2=alt.value(x1)))
    layers.append(
        alt.Chart(one_row)
        .mark_rect(fillOpacity=0, stroke="black", strokeWidth=7)
        .encode(x=alt.value(0), x2=alt.value(W), y=alt.value(0), y2=alt.value(H))
    )
    layers.extend(extra)
    return alt.layer(*layers).properties(width=W, height=H)


def colorbar_layers():
    # drawn on its own log scale whose range spans both rows of panels
    y_scale = alt.Scale(type="log", domain=[0.01, 501], range=[CBAR_H, 0], nice=False)
    edges = np.geomspace(0.01, 501, 321)
    ramp = pd.DataFrame({"lo": edges[:-1], "hi": edges[1:], "mid": np.sqrt(edges[:-1] * edges[1:])})
    bar = (
        alt.Chart(ramp)
        .mark_rect(strokeWidth=0.6)
        .encode(
            x=alt.value(CBAR_X),
            x2=alt.value(CBAR_X + CBAR_W),
            y=alt.Y("lo:Q", scale=y_scale, axis=None),
            y2="hi:Q",
            color=alt.Color("mid:Q", scale=color_scale, legend=None),
            stroke=alt.Stroke("mid:Q", scale=color_scale, legend=None),
        )
    )
    tdf = pd.DataFrame({"v": CBAR_TICKS, "e": CBAR_EXPONENTS})
    ticks = (
        alt.Chart(tdf[tdf.v > 0.01])
        .mark_rule(strokeWidth=3, color="black")
        .encode(y=alt.Y("v:Q", scale=y_scale, axis=None), x=alt.value(CBAR_X + CBAR_W - TICK_LEN), x2=alt.value(CBAR_X + CBAR_W))
    )
    tens = (
        alt.Chart(tdf)
        .mark_text(text="10", fontSize=TICK_SIZE, font=FONT, align="left", baseline="alphabetic", dy=43, color="black")
        .encode(y=alt.Y("v:Q", scale=y_scale, axis=None), x=alt.value(CBAR_X + 149))
    )
    sups = (
        alt.Chart(tdf)
        .mark_text(fontSize=58, font=FONT, align="left", baseline="alphabetic", color="black")
        .encode(y=alt.Y("v:Q", scale=y_scale, axis=None), x=alt.value(CBAR_X + 255), text="e:N")
    )
    frame = (
        alt.Chart(one_row)
        .mark_rect(fillOpacity=0, stroke="black", strokeWidth=7)
        .encode(x=alt.value(CBAR_X), x2=alt.value(CBAR_X + CBAR_W), y=alt.value(0), y2=alt.value(CBAR_H))
    )
    counts = piece(CBAR_X + 3900 - 3499.5, 1355 - 299.3, "Counts", TICK_SIZE, angle=90)
    return [bar, ticks, tens, sups, frame, counts]


p1 = panel(TOP_Z12, X_RANGE_TOP, X_TICKS_TOP, show_y=True, extra=ylabel_pieces() + z_title([354, 422, 516], REDSHIFTS[0]))
p2 = panel(TOP_Z22, X_RANGE_TOP, X_TICKS_TOP, x_title="Prolateness", extra=z_title([336.5, 412.5, 499], REDSHIFTS[1]))
p3 = panel(TOP_Z00, X_RANGE_TOP, X_TICKS_TOP, extra=z_title([339, 409, 498], REDSHIFTS[2]) + colorbar_layers()).resolve_scale(y="independent")
p4 = panel(BOTTOM_Z12, X_RANGE_BOTTOM, X_TICKS_BOTTOM, show_y=True)
p5 = panel(BOTTOM_Z22, X_RANGE_BOTTOM, X_TICKS_BOTTOM, x_title="Ellipticity")
p6 = panel(BOTTOM_Z00, X_RANGE_BOTTOM, X_TICKS_BOTTOM)

chart = (
    alt.concat(p1, p2, p3, p4, p5, p6, columns=3, spacing={"row": 218.7, "column": 0}, bounds="flush")
    .properties(padding={"left": 142.5, "top": 156.3, "right": 0, "bottom": 30})
    .configure_view(stroke=None)
    .configure(background="white")
)

chart.save("out.html", embed_options={"renderer": "svg", "actions": False})
